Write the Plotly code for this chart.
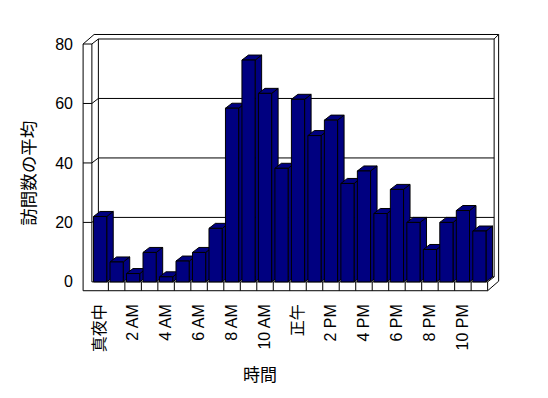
import plotly.graph_objects as go

# ---- data ----
hours = list(range(24))
visits = [22, 6.7, 2.8, 9.9, 1.7, 7, 9.9, 18, 58.4, 74.6, 63.4, 38.2,
          61.4, 49.2, 54.4, 33.1, 37.3, 23, 31.1, 20, 10.9, 20, 24, 17.1]
tick_hours = [0, 2, 4, 6, 8, 10, 12, 14, 16, 18, 20, 22]
tick_labels = ["真夜中", "2 AM", "4 AM", "6 AM", "8 AM", "10 AM",
               "正午", "2 PM", "4 PM", "6 PM", "8 PM", "10 PM"]
y_ticks = [0, 20, 40, 60, 80]

# ---- 3D look parameters (data units) ----
BW = 0.8          # bar width
DX, DY = 0.394, 1.685   # depth offset of back wall / bar depth
OX, OY = 0.667, 3.2     # outer depth (wall thickness)
WL = 1.033              # left wall front-face outer x (negative)
FL = 2.97               # floor thickness
X0, X1 = -0.5, 23.5
YMAX = 80
NAVY = "#000080"

line = dict(color="black", width=1)
shapes = []

def seg(x0, y0, x1, y1):
    shapes.append(dict(type="line", xref="x", yref="y", x0=x0, y0=y0,
                       x1=x1, y1=y1, line=line, layer="below"))

def poly(pts, fill):
    p = "M " + " L ".join(f"{x},{y}" for x, y in pts) + " Z"
    shapes.append(dict(type="path", xref="x", yref="y", path=p,
                       fillcolor=fill, line=line, layer="below"))

# front face of left wall + floor
seg(-WL, YMAX, -WL, -FL)
seg(-WL, -FL, X1, -FL)
seg(X1, -FL, X1, 0)
seg(X0, YMAX, X0, 0)
seg(X0, 0, X1, 0)
seg(-WL, YMAX, X0, YMAX)
# left wall top
seg(-WL, YMAX, -WL + OX, YMAX + OY)
seg(X0, YMAX, X0 + DX, YMAX + DY)
# back wall top edges
seg(-WL + OX, YMAX + OY, X1 + OX, YMAX + OY)
seg(X0 + DX, YMAX + DY, X1 + DX, YMAX + DY)
# right side
seg(X1 + DX, DY, X1 + DX, YMAX + DY)
seg(X1 + OX, -FL + OY, X1 + OX, YMAX + OY)
seg(X1 + DX, YMAX + DY, X1 + OX, YMAX + OY)
seg(X1, 0, X1 + DX, DY)
seg(X1, -FL, X1 + OX, -FL + OY)
# back-left corner and floor back edge
seg(X0 + DX, DY, X0 + DX, YMAX + DY)
seg(X0 + DX, DY, X1 + DX, DY)
# gridlines
for v in y_ticks[1:-1]:
    seg(X0 + DX, v + DY, X1 + DX, v + DY)
    seg(X0, v, X0 + DX, v + DY)
    seg(-WL, v, X0, v)
# floor front ticks
for h in hours[1:]:
    seg(h - 0.5, -FL, h - 0.5, 0)

# bar tops and sides
for h, v in zip(hours, visits):
    l, r = h - BW / 2, h + BW / 2
    poly([(r, 0), (r, v), (r + DX, v + DY), (r + DX, DY)], NAVY)
    poly([(l, v), (l + DX, v + DY), (r + DX, v + DY), (r, v)], NAVY)

fig = go.Figure(go.Bar(
    x=hours, y=visits, width=BW,
    marker=dict(color=NAVY, line=dict(color="black", width=1)),
))

font_family = "Arial, 'Liberation Sans', 'Noto Sans CJK JP', sans-serif"

fig.update_layout(
    width=548, height=398,
    margin=dict(l=82, r=48, t=33, b=106, pad=0),
    paper_bgcolor="white", plot_bgcolor="white",
    showlegend=False,
    shapes=shapes,
    font=dict(family=font_family, color="black", size=16),
    xaxis=dict(range=[-1.1, 24.25], tickmode="array", tickvals=tick_hours,
               ticktext=tick_labels, tickangle=-90, showgrid=False,
               zeroline=False, showline=False, ticks="",
               ticklabelstandoff=8, tickfont=dict(size=16)),
    yaxis=dict(range=[-3.4, 83.7], tickmode="array", tickvals=y_ticks,
               showgrid=False, zeroline=False, showline=False, ticks="",
               ticklabelstandoff=8, tickfont=dict(size=16)),
    annotations=[
        dict(text="訪問数の平均", xref="paper", yref="paper", x=-0.127, y=0.46,
             textangle=-90, showarrow=False, xanchor="center", yanchor="middle",
             font=dict(size=17.5)),
        dict(text="時間", xref="paper", yref="paper", x=0.426, y=-0.322,
             showarrow=False, xanchor="center", yanchor="middle",
             font=dict(size=17)),
    ],
)

fig.write_html("out.html", config={"displayModeBar": False},
               post_script="document.body.style.margin='0px';document.body.style.padding='0px';")
